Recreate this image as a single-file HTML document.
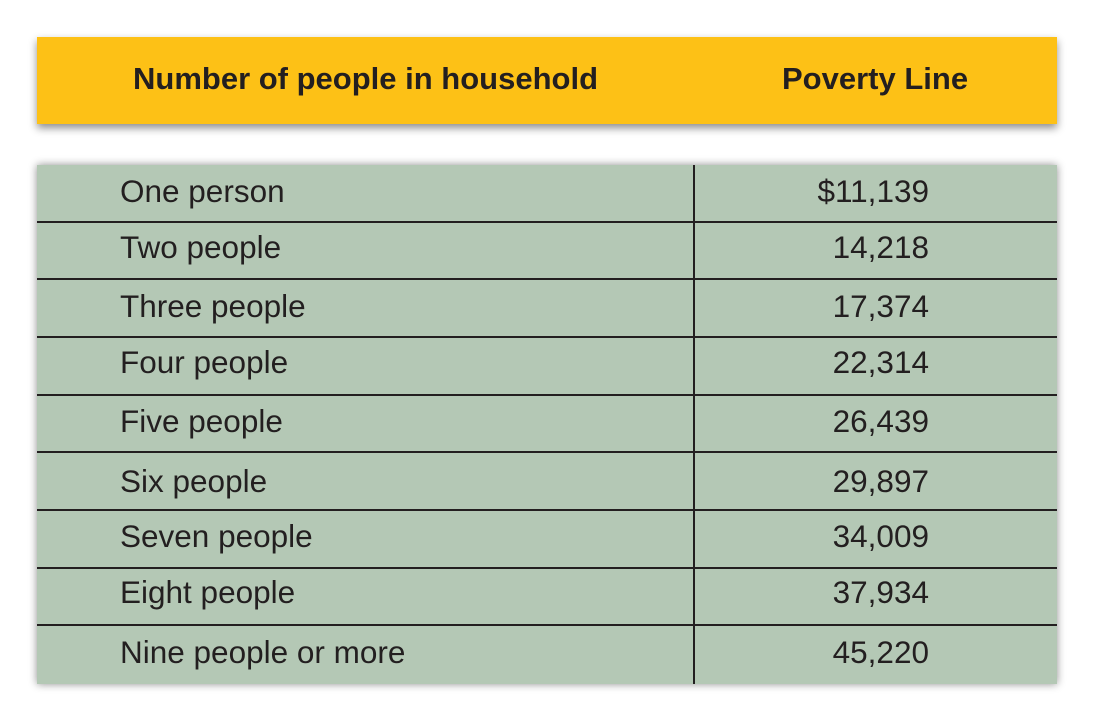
<!DOCTYPE html>
<html><head><style>
body{margin:0;width:1096px;height:721px;background:#fff;position:relative;overflow:hidden;font-family:"Liberation Sans",sans-serif;color:#231f20}
.hd{position:absolute;left:37px;top:37px;width:1020px;height:87px;background:#fdc116;box-shadow:0 4px 8px rgba(0,0,0,.45)}
.hd span{position:absolute;top:24px;font-weight:bold;font-size:31px;white-space:nowrap}
.tb{position:absolute;left:37px;top:165px;width:1020px;height:519px;background:#b4c8b5;box-shadow:0 0 8px rgba(0,0,0,.45)}
.r{position:absolute;left:0;width:1020px;border-bottom:2px solid #231f20;box-sizing:border-box}
.r.last{border-bottom:none}
.l{position:absolute;left:83px;font-size:31.5px;white-space:nowrap}
.v{position:absolute;right:128px;font-size:31.5px}
.dv{position:absolute;left:656px;top:0;width:2px;height:519px;background:#231f20}
</style></head><body>
<div class="hd"><span style="left:96px">Number of people in household</span><span style="left:745px">Poverty Line</span></div>
<div class="tb">
<div class="r" style="top:0;height:58px"><span class="l" style="top:8px">One person</span><span class="v" style="top:8px">$11,139</span></div>
<div class="r" style="top:57px;height:58px"><span class="l" style="top:7px">Two people</span><span class="v" style="top:7px">14,218</span></div>
<div class="r" style="top:115px;height:58px"><span class="l" style="top:8px">Three people</span><span class="v" style="top:8px">17,374</span></div>
<div class="r" style="top:173px;height:58px"><span class="l" style="top:6px">Four people</span><span class="v" style="top:6px">22,314</span></div>
<div class="r" style="top:230px;height:58px"><span class="l" style="top:8px">Five people</span><span class="v" style="top:8px">26,439</span></div>
<div class="r" style="top:288px;height:58px"><span class="l" style="top:10px">Six people</span><span class="v" style="top:10px">29,897</span></div>
<div class="r" style="top:346px;height:58px"><span class="l" style="top:7px">Seven people</span><span class="v" style="top:7px">34,009</span></div>
<div class="r" style="top:403px;height:58px"><span class="l" style="top:6px">Eight people</span><span class="v" style="top:6px">37,934</span></div>
<div class="r last" style="top:461px;height:58px"><span class="l" style="top:8px">Nine people or more</span><span class="v" style="top:8px">45,220</span></div>
<div class="dv"></div>
</div>
</body></html>
